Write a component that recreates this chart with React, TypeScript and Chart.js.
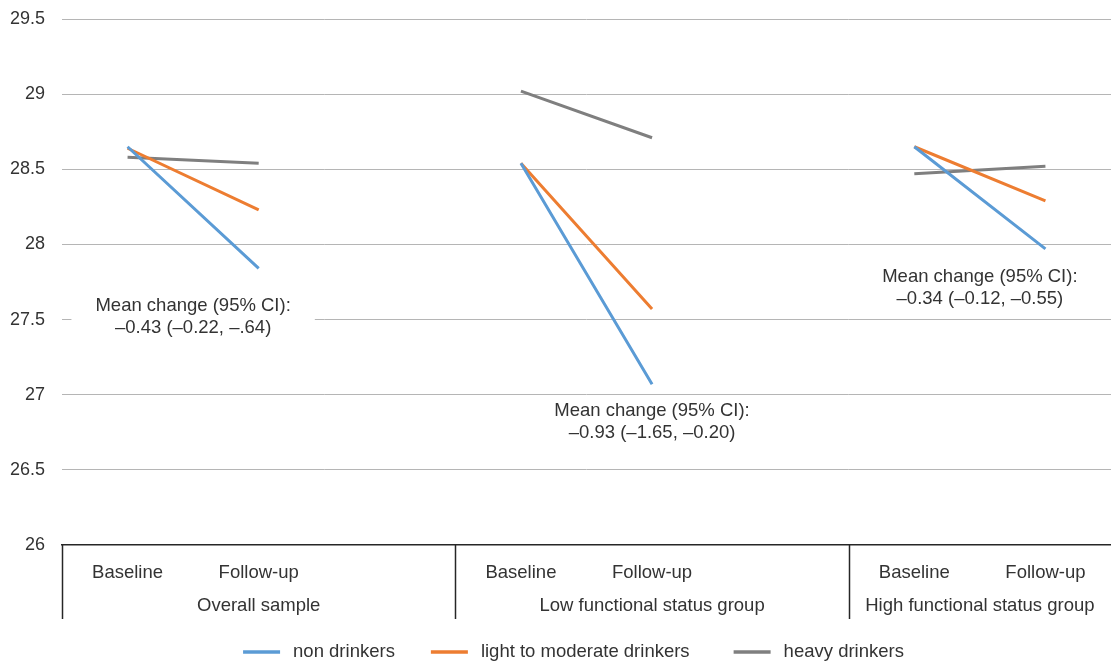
import { useEffect, useRef } from "react";
import { Chart, registerables } from "chart.js";

Chart.register(...registerables);

// ---- data ----
const categories = ["Baseline", "Follow-up", "", "Baseline", "Follow-up", "", "Baseline", "Follow-up"];
const groupLabels = ["Overall sample", "Low functional status group", "High functional status group"];
const groupStart = [0, 3, 6];
const groupEnd = [2, 5, 7];

const nonDrinkers = [28.65, 27.84, null, 28.54, 27.07, null, 28.65, 27.97];
const lightModerate = [28.64, 28.23, null, 28.54, 27.57, null, 28.65, 28.29];
const heavyDrinkers = [28.58, 28.54, null, 29.02, 28.71, null, 28.47, 28.52];

const seriesNames = ["non drinkers", "light to moderate drinkers", "heavy drinkers"];

const yTicksMin = 26;
const yTicksMax = 29.5;
const yTickStep = 0.5;

const annotationX = [0.5, 4, 6.5];
const annotationY = [27.52, 26.82, 27.71];
const annotationLines = [
  ["Mean change (95% CI):", "\u20130.43 (\u20130.22, \u2013.64)"],
  ["Mean change (95% CI):", "\u20130.93 (\u20131.65, \u20130.20)"],
  ["Mean change (95% CI):", "\u20130.34 (\u20130.12, \u20130.55)"],
];

// ---- styles ----
const FONT = "'Liberation Sans', Arial, sans-serif";
const TEXT = "#333333";
const COLORS = ["#5B9BD5", "#ED7D31", "#7F7F7F"];

const annotationPlugin = {
  id: "meanChange",
  afterDatasetsDraw(chart: any) {
    const { ctx, scales } = chart;
    const x = scales.x;
    const y = scales.y;
    ctx.save();
    ctx.font = `18.5px ${FONT}`;
    ctx.textAlign = "center";
    ctx.textBaseline = "middle";
    const lh = 22;
    annotationLines.forEach((lines, i) => {
      const cx = x.getPixelForValue(annotationX[i]);
      const cy = y.getPixelForValue(annotationY[i]);
      const w = Math.max(...lines.map((l) => ctx.measureText(l).width));
      const h = lh * lines.length;
      ctx.fillStyle = "#ffffff";
      ctx.fillRect(cx - w / 2 - 24, cy - h / 2 - 3, w + 48, h + 6);
      ctx.fillStyle = TEXT;
      lines.forEach((l, j) => {
        ctx.fillText(l, cx, cy - h / 2 + lh * j + lh / 2);
      });
    });
    ctx.restore();
  },
};

const groupAxisPlugin = {
  id: "groupAxis",
  afterDraw(chart: any) {
    const { ctx, scales, chartArea } = chart;
    const x = scales.x;
    const top = chartArea.bottom;
    ctx.save();
    ctx.strokeStyle = "#262626";
    ctx.lineWidth = 1.5;
    ctx.font = `18.5px ${FONT}`;
    ctx.fillStyle = TEXT;
    ctx.textAlign = "center";
    ctx.textBaseline = "middle";
    groupLabels.forEach((g, i) => {
      const left = x.getPixelForValue(groupStart[i] - 0.5);
      const right = x.getPixelForValue(groupEnd[i] + 0.5);
      ctx.beginPath();
      ctx.moveTo(Math.round(left) + 0.5, top);
      ctx.lineTo(Math.round(left) + 0.5, top + 74);
      ctx.stroke();
      ctx.fillText(g, (left + right) / 2, top + 61);
    });

    // legend
    const items = chart.data.datasets.map((d: any) => ({ label: d.label, color: d.borderColor }));
    const boxW = 37;
    const gap = 13;
    const spacings = [36, 44];
    const widths = items.map((it: any) => boxW + gap + ctx.measureText(it.label).width);
    const total =
      widths.reduce((a: number, b: number) => a + b, 0) + spacings.reduce((a, b) => a + b, 0);
    const cx = (chartArea.left + chartArea.right) / 2 - 13;
    let lx = cx - total / 2;
    const ly = 652;
    ctx.textAlign = "left";
    items.forEach((it: any, i: number) => {
      ctx.strokeStyle = it.color;
      ctx.lineWidth = 3.5;
      ctx.beginPath();
      ctx.moveTo(lx, ly);
      ctx.lineTo(lx + boxW, ly);
      ctx.stroke();
      ctx.fillStyle = TEXT;
      ctx.fillText(it.label, lx + boxW + gap, ly);
      lx += widths[i] + (spacings[i] || 0);
    });
    ctx.restore();
  },
};

export default function App() {
  const ref = useRef<HTMLCanvasElement | null>(null);

  useEffect(() => {
    document.body.style.margin = "0";
    if (!ref.current) return;
    const chart = new Chart(ref.current, {
      type: "line",
      data: {
        labels: categories,
        datasets: [nonDrinkers, lightModerate, heavyDrinkers].map((data, i) => ({
          label: seriesNames[i],
          data,
          borderColor: COLORS[i],
          backgroundColor: COLORS[i],
          borderWidth: 3,
          pointRadius: 0,
          pointHoverRadius: 0,
          spanGaps: false,
          tension: 0,
        })),
      },
      options: {
        animation: false,
        responsive: false,
        devicePixelRatio: 1,
        layout: { padding: { top: 19, right: -3, bottom: 0, left: 0 } },
        plugins: {
          legend: { display: false },
          tooltip: { enabled: false },
        },
        scales: {
          x: {
            type: "category",
            offset: true,
            grid: { display: false, drawTicks: false },
            border: { display: true, color: "#262626", width: 1.5 },
            ticks: {
              autoSkip: false,
              maxRotation: 0,
              padding: 17,
              color: TEXT,
              font: { family: FONT, size: 18.5 },
            },
            afterFit(scale: any) {
              scale.height = 118;
            },
          },
          y: {
            min: yTicksMin,
            max: yTicksMax,
            grid: {
              drawTicks: false,
              color: (c: any) => (c.tick && c.tick.value === yTicksMin ? "rgba(0,0,0,0)" : "#b5b5b5"),
              lineWidth: 1,
            },
            border: { display: false },
            ticks: {
              stepSize: yTickStep,
              padding: 17,
              color: TEXT,
              font: { family: FONT, size: 18 },
              callback: (v: any) => String(Number(v)),
            },
            afterFit(scale: any) {
              scale.width = 62;
              scale.paddingTop = 0;
              scale.paddingBottom = 0;
            },
          },
        },
      },
      plugins: [annotationPlugin, groupAxisPlugin],
    });
    return () => chart.destroy();
  }, []);

  return (
    <div style={{ width: 1111, height: 663 }}>
      <canvas ref={ref} width={1111} height={663} style={{ display: "block" }} />
    </div>
  );
}
